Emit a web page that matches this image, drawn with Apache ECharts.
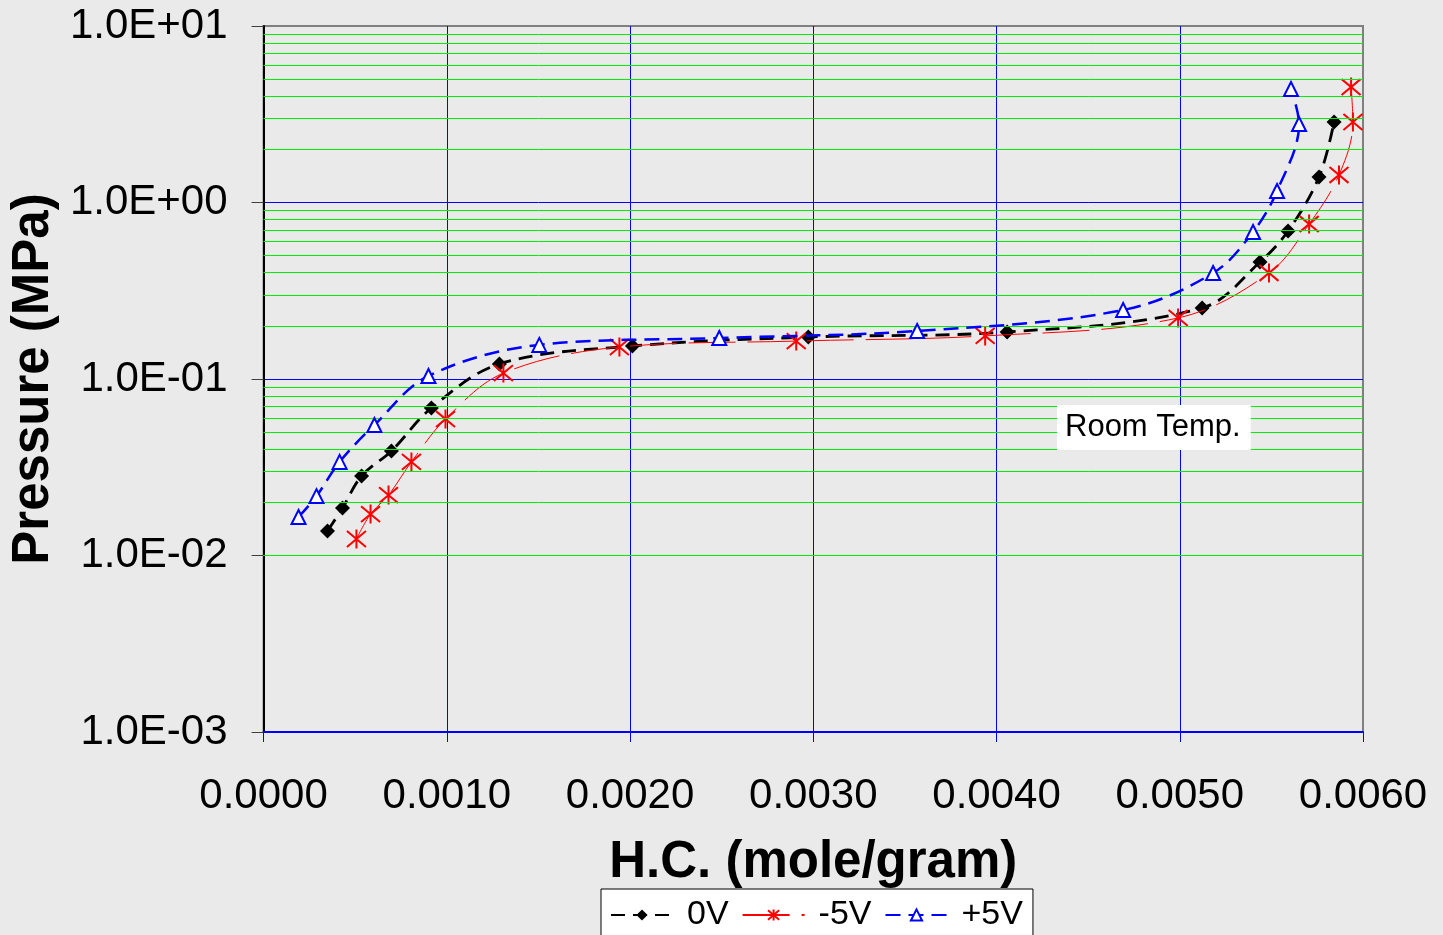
<!DOCTYPE html>
<html><head><meta charset="utf-8">
<script src="https://cdn.jsdelivr.net/npm/echarts@6/dist/echarts.min.js"></script>
<style>html,body{margin:0;padding:0;background:#eaeaea;} #c{width:1443px;height:935px;}</style>
</head><body><div id="c"></div>
<script>
// ---- data (H.C. in mole/gram, pressure in MPa) ----
const seriesNames = ['0V', '-5V', '+5V'];
const hc_0V = [0.000349, 0.000431, 0.000535, 0.000698, 0.000916, 0.001287, 0.002013, 0.002973, 0.004058, 0.005122, 0.005438, 0.005591, 0.005760, 0.005842];
const p_0V  = [0.01377, 0.0186, 0.0282, 0.0391, 0.0685, 0.1216, 0.1538, 0.1729, 0.1846, 0.2526, 0.4603, 0.690, 1.395, 2.858];
const hc_m5V = [0.000507, 0.000584, 0.000682, 0.000807, 0.000993, 0.001309, 0.001942, 0.002907, 0.003938, 0.004991, 0.005487, 0.005706, 0.005869, 0.005945, 0.005935];
const p_m5V  = [0.01240, 0.01717, 0.0220, 0.0339, 0.0593, 0.108, 0.1518, 0.164, 0.1755, 0.2218, 0.3988, 0.755, 1.432, 2.858, 4.51];
const hc_p5V = [0.000191, 0.000289, 0.000415, 0.000605, 0.000900, 0.001505, 0.002487, 0.003567, 0.004691, 0.005182, 0.005400, 0.005531, 0.005651, 0.005607];
const p_p5V  = [0.01652, 0.0217, 0.0339, 0.0549, 0.104, 0.156, 0.1706, 0.187, 0.246, 0.3988, 0.681, 1.162, 2.786, 4.40];
const xTicks = [0, 0.001, 0.002, 0.003, 0.004, 0.005, 0.006];
const yDecades = [0.001, 0.01, 0.1, 1, 10];
const minorMultipliers = [2, 3, 4, 5, 6, 7, 8, 9];
const annotation = 'Room Temp.';
const xTitle = 'H.C. (mole/gram)';
const yTitle = 'Pressure (MPa)';

const FONT = '"Liberation Sans", Arial, sans-serif';
function pairs(xs, ys) { return xs.map((x, i) => [x, ys[i]]); }
function fmtE(v) {
  const e = Math.round(Math.log10(v));
  const m = v / Math.pow(10, e);
  return m.toFixed(1) + 'E' + (e < 0 ? '-' : '+') + String(Math.abs(e)).padStart(2, '0');
}
const minorLines = [];
yDecades.slice(0, -1).forEach(d => minorMultipliers.forEach(k => minorLines.push({ yAxis: +(k * d).toPrecision(3) })));

const asterisk = 'path://M0,0L10,10M10,0L0,10M5,-1L5,11';

const chart = echarts.init(document.getElementById('c'), null, { renderer: 'canvas' });
chart.setOption({
  backgroundColor: '#eaeaea',
  animation: false,
  title: {
    text: annotation, left: 1057, top: 405,
    backgroundColor: '#ffffff', padding: [7, 10, 7, 8],
    textStyle: { fontFamily: FONT, fontSize: 31, fontWeight: 'normal', color: '#000', lineHeight: 31 }
  },
  grid: { left: 263, right: 80, top: 26, bottom: 203, show: true, borderColor: '#808080', borderWidth: 2, backgroundColor: 'transparent' },
  xAxis: {
    type: 'value', min: xTicks[0], max: xTicks[xTicks.length - 1], interval: 0.001,
    name: xTitle, nameLocation: 'middle', nameGap: 105,
    nameTextStyle: { fontFamily: FONT, fontSize: 51, fontWeight: 'bold', color: '#000' },
    axisLine: { show: true, onZero: false, lineStyle: { color: '#0000ff', width: 2 } },
    axisTick: { show: true, length: 10, lineStyle: { color: '#0000ff', width: 1 } },
    axisLabel: { fontFamily: FONT, fontSize: 42, color: '#000', margin: 43, formatter: v => v.toFixed(4) },
    splitLine: { show: true, showMaxLine: false, lineStyle: { color: '#0000ff', width: 1 } }
  },
  yAxis: {
    type: 'log', logBase: 10, min: yDecades[0], max: yDecades[yDecades.length - 1],
    name: yTitle, nameLocation: 'middle', nameGap: 194,
    nameTextStyle: { fontFamily: FONT, fontSize: 51, fontWeight: 'bold', color: '#000' },
    axisLine: { show: true, lineStyle: { color: '#000', width: 2 } },
    axisTick: { show: true, length: 12, lineStyle: { color: '#404040', width: 1 } },
    axisLabel: { fontFamily: FONT, fontSize: 42, color: '#000', margin: 36, formatter: fmtE },
    splitLine: { show: true, showMaxLine: false, lineStyle: { color: '#0000ff', width: 1 } },
    minorTick: { show: false }, minorSplitLine: { show: false }
  },
  legend: {
    data: seriesNames,
    left: 601, top: 889,
    backgroundColor: '#ffffff', borderColor: '#000', borderWidth: 1,
    padding: [9, 10, 20, 9],
    itemWidth: 62, itemHeight: 14, itemGap: 13,
    textStyle: { fontFamily: FONT, fontSize: 34, color: '#000', padding: [0, 0, 0, 9] }
  },
  series: [
    {
      name: 'minor', type: 'line', data: [], silent: true, z: 1,
      markLine: { silent: true, symbol: 'none', label: { show: false }, animation: false,
        lineStyle: { color: '#00ee00', width: 1, type: 'solid' }, data: minorLines }
    },
    {
      name: seriesNames[0], type: 'line', data: pairs(hc_0V, p_0V), smooth: 0.35, z: 3,
      symbol: 'diamond', symbolSize: 15,
      itemStyle: { color: '#000' },
      lineStyle: { color: '#000', width: 2.8, type: [14, 8] }
    },
    {
      name: seriesNames[1], type: 'line', data: pairs(hc_m5V, p_m5V), smooth: 0.35, z: 4,
      symbol: asterisk, symbolSize: 19,
      itemStyle: { color: '#ff0000', borderColor: '#ff0000', borderWidth: 2 },
      lineStyle: { color: '#ff0000', width: 1, type: [47, 12] }
    },
    {
      name: seriesNames[2], type: 'line', data: pairs(hc_p5V, p_p5V), smooth: 0.35, z: 5,
      symbol: 'emptyTriangle', symbolSize: 14,
      itemStyle: { color: '#0000ff', borderColor: '#0000ff', borderWidth: 2 },
      lineStyle: { color: '#0000ff', width: 2.5, type: [15, 8] }
    }
  ]
});
</script>
</body></html>
